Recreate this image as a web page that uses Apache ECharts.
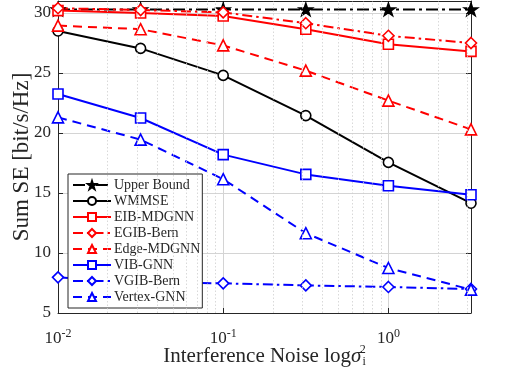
<!DOCTYPE html>
<html>
<head>
<meta charset="utf-8">
<script src="https://cdn.jsdelivr.net/npm/echarts@6/dist/echarts.min.js"></script>
<style>
  html, body { margin: 0; padding: 0; background: #fff; }
  #chart { width: 531px; height: 375px; }
</style>
</head>
<body>
<div id="chart"></div>
<script>
// noise levels (log axis)
var noise = [0.01, 0.031623, 0.1, 0.31623, 1, 3.1623];
var minorX = [0.02, 0.03, 0.04, 0.05, 0.06, 0.07, 0.08, 0.09,
              0.2, 0.3, 0.4, 0.5, 0.6, 0.7, 0.8, 0.9, 2, 3];

var upperBound = [30.3, 30.3, 30.3, 30.3, 30.3, 30.3];
var wmmse      = [28.5, 27.05, 24.8, 21.45, 17.55, 14.15];
var eibMdgnn   = [30.2, 30.0, 29.75, 28.65, 27.4, 26.8];
var egibBern   = [30.4, 30.25, 30.05, 29.15, 28.1, 27.5];
var edgeMdgnn  = [28.95, 28.65, 27.3, 25.2, 22.7, 20.3];
var vibGnn     = [23.25, 21.25, 18.2, 16.55, 15.6, 14.85];
var vgibBern   = [7.97, 7.6, 7.47, 7.3, 7.17, 7.0];
var vertexGnn  = [21.3, 19.45, 16.15, 11.65, 8.75, 6.95];

var STAR = 'path://M50,0 L61.8,35.3 L99,35.3 L68.9,57.2 L80.4,92.6 L50,70.7 L19.6,92.6 L31.1,57.2 L1,35.3 L38.2,35.3 Z';
var FONT = 'Liberation Serif';

function pairs(ys) {
  return ys.map(function (y, i) { return [noise[i], y]; });
}

function mk(name, ys, color, dash, symbol, filled, size) {
  return {
    name: name,
    type: 'line',
    data: pairs(ys),
    symbol: symbol,
    symbolSize: size || 10,
    symbolKeepAspect: true,
    showAllSymbol: true,
    lineStyle: { color: color, width: 2, type: dash },
    itemStyle: { color: filled ? color : '#fff', borderColor: color, borderWidth: 1.6 },
    emphasis: { disabled: true },
    z: 3
  };
}

var dashDot = [10, 4, 2.5, 4];
var dashed = [9, 6];

var myChart = echarts.init(document.getElementById('chart'));
myChart.setOption({
  animation: false,
  backgroundColor: '#fff',
  textStyle: { fontFamily: FONT },
  grid: { left: 58, right: 60, top: 1, bottom: 62, show: false, containLabel: false, outerBoundsMode: 'none' },
  legend: {
    orient: 'vertical',
    left: 68,
    top: 174,
    itemWidth: 38,
    itemHeight: 10,
    itemGap: 2,
    padding: [4, 2, 4, 4],
    backgroundColor: '#fff',
    borderColor: '#262626',
    borderWidth: 1,
    textStyle: { fontFamily: FONT, fontSize: 14, color: '#262626', padding: [0, 0, 0, -2] },
    data: ['Upper Bound', 'WMMSE', 'EIB-MDGNN', 'EGIB-Bern', 'Edge-MDGNN', 'VIB-GNN', 'VGIB-Bern', 'Vertex-GNN']
  },
  xAxis: [{
    type: 'log',
    logBase: 10,
    min: 0.01,
    max: 3.1623,
    name: '{a|Interference Noise log}{b|σ}{c|i}{d|2}',
    nameLocation: 'middle',
    nameMoveOverlap: false,
    nameGap: 31,
    nameTextStyle: {
      rich: {
        a: { fontFamily: FONT, fontSize: 21, color: '#262626' },
        b: { fontFamily: FONT, fontSize: 21, fontStyle: 'italic', color: '#262626' },
        c: { fontFamily: FONT, fontSize: 12, color: '#262626', padding: [12, 0, 0, 1] },
        d: { fontFamily: FONT, fontSize: 12, color: '#262626', padding: [0, 0, 12, -6] }
      }
    },
    axisLine: { onZero: false, lineStyle: { color: '#262626', width: 1 } },
    axisTick: { inside: true, length: 5, lineStyle: { color: '#262626' } },
    axisLabel: {
      margin: 15,
      formatter: function (v) {
        var e = Math.log10(v);
        if (Math.abs(e - Math.round(e)) > 0.01) return '';
        return '{m|10}{s|' + Math.round(e) + '}';
      },
      rich: {
        m: { fontFamily: FONT, fontSize: 17, color: '#262626' },
        s: { fontFamily: FONT, fontSize: 12, color: '#262626', padding: [0, 0, 9, 0] }
      }
    },
    splitLine: { show: true, lineStyle: { color: '#d4d4d4', width: 1 } }
  }, {
    type: 'log',
    logBase: 10,
    min: 0.01,
    max: 3.1623,
    position: 'top',
    axisLine: { onZero: false, lineStyle: { color: '#262626', width: 1 } },
    axisTick: { inside: true, length: 5, lineStyle: { color: '#262626' } },
    axisLabel: { show: false },
    splitLine: { show: false }
  }],
  yAxis: [{
    type: 'value',
    min: 5,
    max: 31,
    interval: 5,
    name: 'Sum SE [bit/s/Hz]',
    nameLocation: 'middle',
    nameMoveOverlap: false,
    nameGap: 25,
    nameTextStyle: { fontFamily: FONT, fontSize: 23, color: '#262626' },
    axisLine: { show: true, lineStyle: { color: '#262626', width: 1 } },
    axisTick: { inside: true, length: 5, lineStyle: { color: '#262626' } },
    axisLabel: {
      fontFamily: FONT, fontSize: 17, color: '#262626', margin: 7,
      formatter: function (v) { return v % 5 === 0 ? v : ''; }
    },
    splitLine: { show: true, lineStyle: { color: '#d4d4d4', width: 1 } }
  }, {
    type: 'value',
    min: 5,
    max: 31,
    interval: 5,
    position: 'right',
    axisLine: { show: true, lineStyle: { color: '#262626', width: 1 } },
    axisTick: { inside: true, length: 5, lineStyle: { color: '#262626' } },
    axisLabel: { show: false },
    splitLine: { show: false }
  }],
  series: [
    {
      // minor grid on the log axis
      type: 'line',
      data: [],
      silent: true,
      markLine: {
        silent: true,
        symbol: 'none',
        label: { show: false },
        lineStyle: { color: '#cfcfcf', width: 0.8, type: [1.5, 2] },
        data: minorX.map(function (v) { return { xAxis: v }; })
      },
      z: 1
    },
    mk('Upper Bound', upperBound, '#000', [12, 4, 3, 4], STAR, true, 13),
    mk('WMMSE', wmmse, '#000', 'solid', 'circle', false),
    mk('EIB-MDGNN', eibMdgnn, '#ff0000', 'solid', 'rect', false),
    mk('EGIB-Bern', egibBern, '#ff0000', dashDot, 'diamond', false, 11),
    mk('Edge-MDGNN', edgeMdgnn, '#ff0000', dashed, 'triangle', false, 11),
    mk('VIB-GNN', vibGnn, '#0000ff', 'solid', 'rect', false),
    mk('VGIB-Bern', vgibBern, '#0000ff', dashDot, 'diamond', false, 11),
    mk('Vertex-GNN', vertexGnn, '#0000ff', dashed, 'triangle', false, 11)
  ]
});
window.addEventListener('resize', function () {
  myChart.resize();
});
</script>
</body>
</html>
